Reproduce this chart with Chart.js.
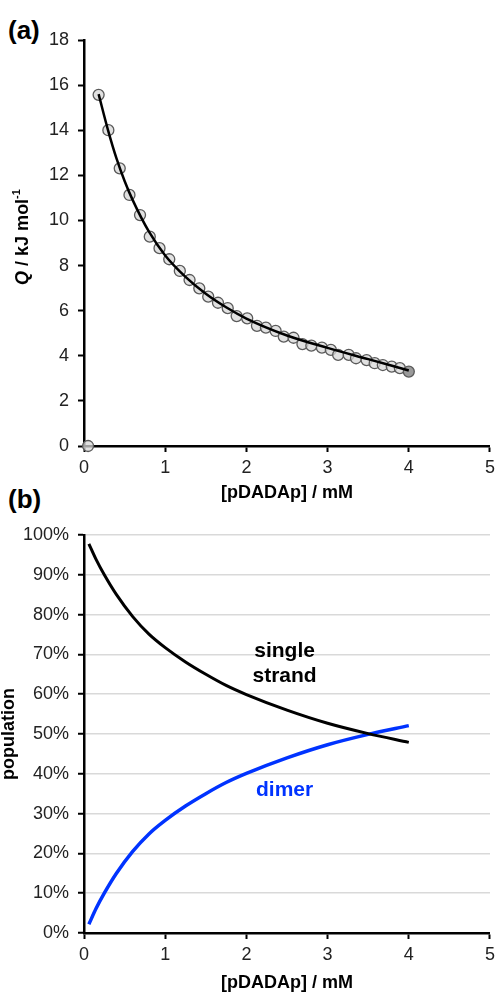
<!DOCTYPE html>
<html>
<head>
<meta charset="utf-8">
<script src="https://cdn.jsdelivr.net/npm/chart.js@4"></script>
<style>
  html, body { margin: 0; padding: 0; background: #fff; }
  body { width: 500px; height: 992px; position: relative; overflow: hidden; font-family: "Liberation Sans", Arial, sans-serif; }
  .panel { position: absolute; left: 0; }
  .tag { position: absolute; left: 8px; font-weight: bold; font-size: 26px; color: #000; line-height: 1; }
</style>
</head>
<body>
<div class="tag" style="top:17px">(a)</div>
<div class="tag" style="top:486px">(b)</div>
<canvas id="chartA" class="panel" style="top:0" width="500" height="510"></canvas>
<canvas id="chartB" class="panel" style="top:480px" width="500" height="512"></canvas>
<script>
// (a) measured heat per injection
const qX = [0.05, 0.18, 0.30, 0.44, 0.56, 0.69, 0.81, 0.93, 1.05, 1.18, 1.30, 1.42, 1.53, 1.65, 1.77, 1.88, 2.01, 2.13,
  2.24, 2.36, 2.46, 2.58, 2.69, 2.80, 2.93, 3.04, 3.13, 3.26, 3.35, 3.48, 3.58, 3.68, 3.79, 3.89, 4.00];
const qY = [0, 15.57, 14.0, 12.31, 11.13, 10.24, 9.28, 8.77, 8.28, 7.76, 7.36, 6.99, 6.62, 6.35, 6.11, 5.76, 5.66, 5.33,
  5.25, 5.10, 4.85, 4.80, 4.52, 4.45, 4.36, 4.26, 4.04, 4.04, 3.89, 3.81, 3.67, 3.59, 3.52, 3.45, 3.30];

// (a) fitted curve
const fitX = [0.18, 0.3, 0.4, 0.5, 0.6, 0.8, 1.0, 1.25, 1.5, 1.75, 2.0, 2.5, 3.0, 3.5, 4.0];
const fitY = [15.6, 13.95, 12.75, 11.75, 10.9, 9.5, 8.45, 7.5, 6.75, 6.15, 5.65, 4.9, 4.35, 3.85, 3.35];

// (b) populations (%)
const popX = [0.06, 0.15, 0.25, 0.4, 0.6, 0.8, 1.0, 1.25, 1.5, 1.75, 2.0, 2.5, 3.0, 3.5, 4.0];
const singleStrand = [97.8, 93.8, 90.0, 85.0, 79.5, 75.1, 71.7, 68.1, 65.0, 62.2, 59.9, 56.0, 52.7, 50.1, 47.9];
const dimer = [2.2, 6.2, 10.0, 15.0, 20.5, 24.9, 28.3, 31.9, 35.0, 37.8, 40.1, 44.0, 47.3, 49.9, 52.1];

const xTicks = [0, 1, 2, 3, 4, 5];
const FONT = '"Liberation Sans", Arial, sans-serif';

function pts(xs, ys) {
  return xs.map((x, i) => ({ x: x, y: ys[i] }));
}

// y title for (a): italic Q and superscript -1
const qTitle = {
  id: 'qTitle',
  afterDraw(chart) {
    const { ctx, chartArea } = chart;
    const parts = [
      { t: 'Q', f: 'italic bold 18px ' + FONT, dy: 0 },
      { t: ' / kJ mol', f: 'bold 18px ' + FONT, dy: 0 },
      { t: '-1', f: 'bold 11px ' + FONT, dy: -6 }
    ];
    ctx.save();
    let total = 0;
    parts.forEach(p => { ctx.font = p.f; p.w = ctx.measureText(p.t).width; total += p.w; });
    ctx.translate(23, (chartArea.top + chartArea.bottom) / 2 - 6);
    ctx.rotate(-Math.PI / 2);
    ctx.fillStyle = '#000';
    ctx.textBaseline = 'middle';
    ctx.textAlign = 'left';
    let x = -total / 2;
    parts.forEach(p => { ctx.font = p.f; ctx.fillText(p.t, x, p.dy); x += p.w; });
    ctx.restore();
  }
};

// curve labels in (b)
const curveLabels = {
  id: 'curveLabels',
  afterDatasetsDraw(chart) {
    const { ctx, scales } = chart;
    ctx.save();
    ctx.font = 'bold 21px ' + FONT;
    ctx.textAlign = 'center';
    ctx.textBaseline = 'middle';
    ctx.fillStyle = '#000';
    ctx.fillText('single', scales.x.getPixelForValue(2.47), scales.y.getPixelForValue(70.7));
    ctx.fillText('strand', scales.x.getPixelForValue(2.47), scales.y.getPixelForValue(64.4));
    ctx.fillStyle = '#0033ff';
    ctx.fillText('dimer', scales.x.getPixelForValue(2.47), scales.y.getPixelForValue(36));
    ctx.restore();
  }
};

function xScale(height, titlePad) {
  return {
    type: 'linear', min: 0, max: 5,
    afterBuildTicks: s => { s.ticks = xTicks.map(v => ({ value: v })); },
    afterFit: s => { s.height = height; },
    border: { color: '#000', width: 2.5 },
    grid: { drawOnChartArea: false, tickLength: 6, tickColor: '#000', tickWidth: 2 },
    ticks: { color: '#222', font: { family: FONT, size: 18 }, padding: 5 },
    title: {
      display: true, text: '[pDADAp] / mM', color: '#000',
      font: { family: FONT, size: 18, weight: 'bold', lineHeight: 1 },
      padding: { top: 0, bottom: titlePad }
    }
  };
}

new Chart(document.getElementById('chartA'), {
  type: 'scatter',
  data: {
    datasets: [
      {
        data: pts(fitX, fitY), showLine: true, borderColor: '#000', borderWidth: 2.5,
        pointRadius: 0, cubicInterpolationMode: 'monotone', order: 0
      },
      {
        data: pts(qX, qY), showLine: false, pointRadius: 5.5, pointBorderWidth: 1.3,
        pointBackgroundColor: c => c.dataIndex === qX.length - 1 ? '#9a9a9a' : 'rgba(215,215,215,0.75)',
        pointBorderColor: '#5a5a5a', clip: false, order: 1
      }
    ]
  },
  options: {
    responsive: false, animation: false,
    layout: { padding: { top: 40, right: 8, bottom: 0, left: 0 } },
    plugins: { legend: { display: false }, tooltip: { enabled: false } },
    scales: {
      x: xScale(64, 8),
      y: {
        min: 0, max: 18,
        afterFit: s => { s.width = 84; },
        border: { color: '#000', width: 2.5 },
        grid: { drawOnChartArea: false, tickLength: 6, tickColor: '#000', tickWidth: 2 },
        ticks: { stepSize: 2, color: '#222', font: { family: FONT, size: 18 }, padding: 9 },
        title: { display: false }
      }
    }
  },
  plugins: [qTitle]
});

new Chart(document.getElementById('chartB'), {
  type: 'scatter',
  data: {
    datasets: [
      {
        label: 'single strand', data: pts(popX, singleStrand), showLine: true, borderColor: '#000',
        borderWidth: 3, pointRadius: 0, cubicInterpolationMode: 'monotone'
      },
      {
        label: 'dimer', data: pts(popX, dimer), showLine: true, borderColor: '#0033ff',
        borderWidth: 3.5, pointRadius: 0, cubicInterpolationMode: 'monotone'
      }
    ]
  },
  options: {
    responsive: false, animation: false,
    layout: { padding: { top: 55, right: 8, bottom: 0, left: 0 } },
    plugins: { legend: { display: false }, tooltip: { enabled: false } },
    scales: {
      x: xScale(59, 0),
      y: {
        min: 0, max: 100,
        afterFit: s => { s.width = 84; },
        border: { color: '#000', width: 2.5 },
        grid: { color: '#d9d9d9', lineWidth: 1.5, tickLength: 6, tickColor: '#000', tickWidth: 2 },
        ticks: { stepSize: 10, color: '#222', font: { family: FONT, size: 18 }, padding: 9, callback: v => v + '%' },
        title: {
          display: true, text: 'population', color: '#000',
          font: { family: FONT, size: 18, weight: 'bold', lineHeight: 1 },
          padding: { top: 0, bottom: 0 }
        }
      }
    }
  },
  plugins: [curveLabels]
});
</script>
</body>
</html>
